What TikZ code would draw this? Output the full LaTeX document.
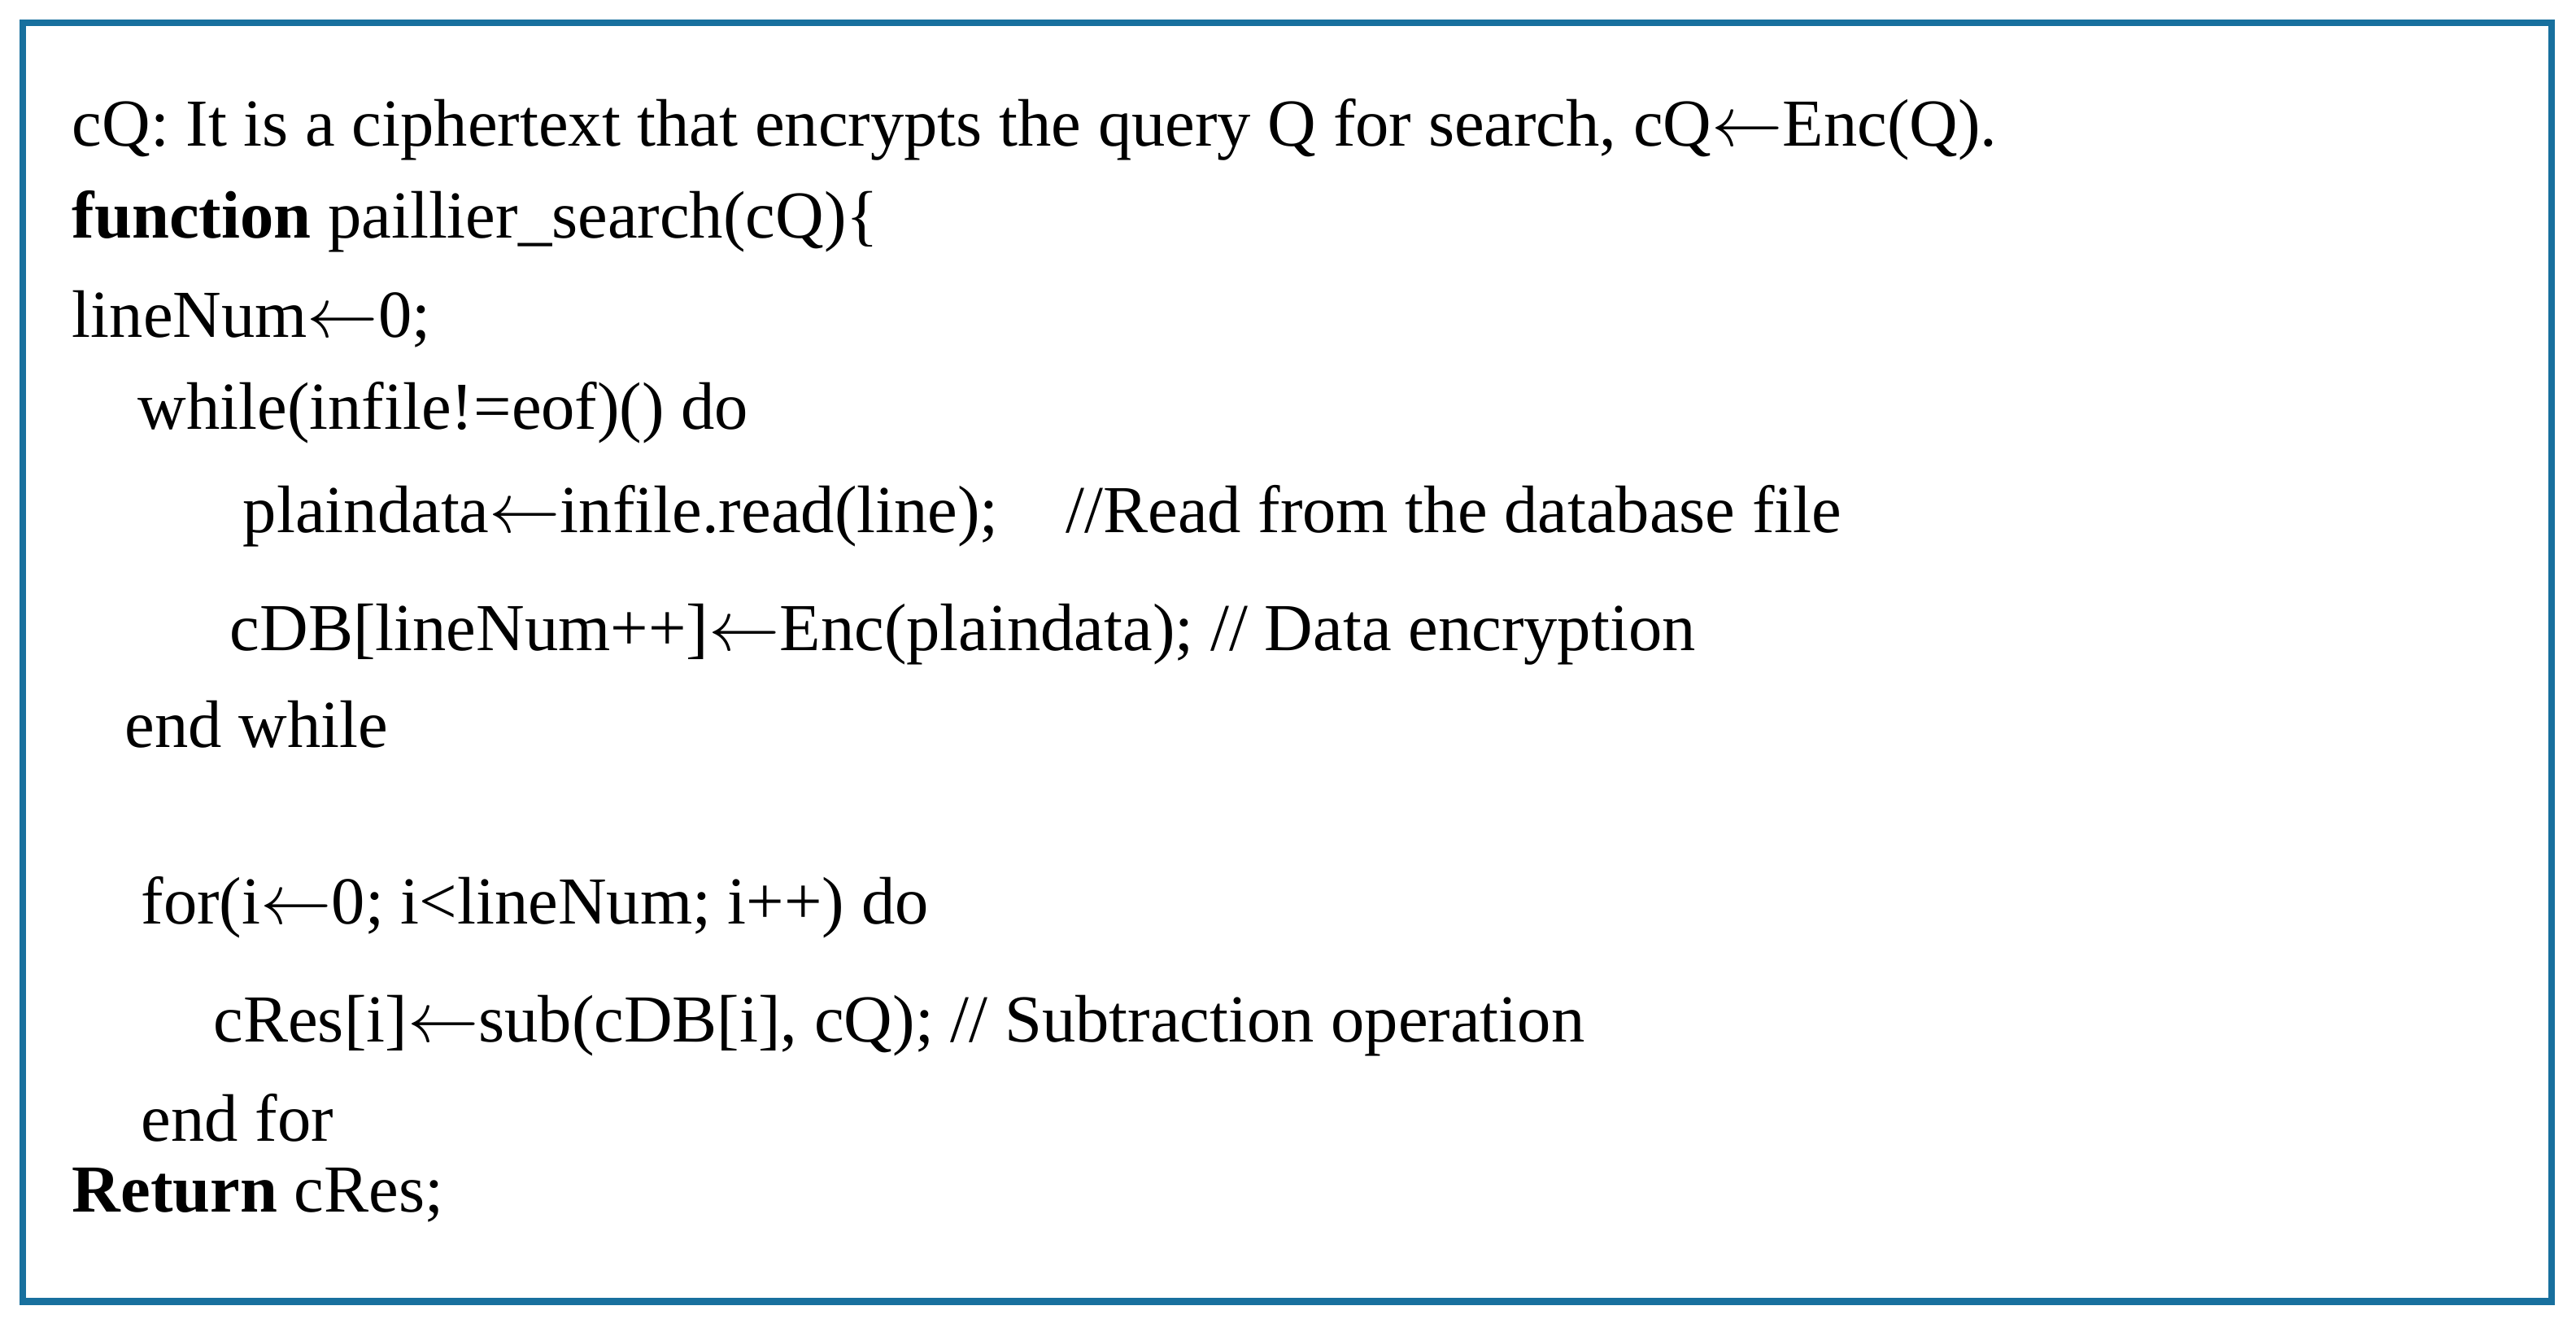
\documentclass[tikz,border=0pt]{standalone}
\usepackage{fontspec}
\setmainfont{Liberation Serif}
\definecolor{framecol}{RGB}{24,112,158}
\newcommand{\getsarr}{\ensuremath{\leftarrow}}
\tikzset{
    codeline/.style = {
        anchor=west,
        inner sep=0pt,
        outer sep=0mm,
        font=\fontsize{23.5pt}{26pt}\selectfont
    },
    framebox/.style = {
        draw=framecol,
        line width=2.4pt
    }
}
\begin{document}
\begin{tikzpicture}[x=0.0202cm,y=-0.0202cm]
    \useasboundingbox (0,0) rectangle (1568,810);
    \draw [framebox] (14,14) rectangle (1553,792);
    \node [codeline] (l1) at (44,79) {cQ: It is a ciphertext that encrypts the query Q for search, cQ\getsarr Enc(Q).};
    \node [codeline] (l2) at (44,135) {\textbf{function} paillier\_search(cQ)\{};
    \node [codeline] (l3) at (44,194) {lineNum\getsarr 0;};
    \node [codeline] (l4) at (84,251) {while(infile!=eof)() do};
    \node [codeline] (l5) at (148,314) {plaindata\getsarr infile.read(line);\quad //Read from the database file};
    \node [codeline] (l6) at (140,386) {cDB[lineNum++]\getsarr Enc(plaindata); // Data encryption};
    \node [codeline] (l7) at (76,441) {end while};
    \node [codeline] (l8) at (86,552) {for(i\getsarr 0; i<lineNum; i++) do};
    \node [codeline] (l9) at (130,624) {cRes[i]\getsarr sub(cDB[i], cQ); // Subtraction operation};
    \node [codeline] (l10) at (86,680) {end for};
    \node [codeline] (l11) at (44,727) {\textbf{Return} cRes;};
\end{tikzpicture}
\end{document}
